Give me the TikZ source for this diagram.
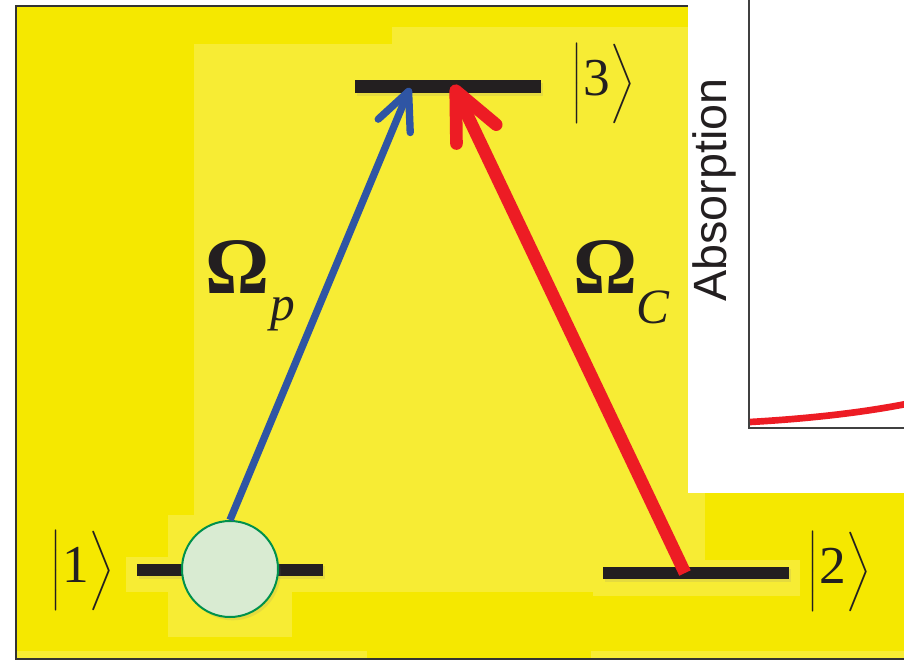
\documentclass[tikz,border=0pt]{standalone}
\usepackage{fix-cm}
\usepackage{amsmath}
\usepackage{fontspec}
\setmainfont{Liberation Serif}
\newfontfamily\plotfont{Liberation Sans}
\usetikzlibrary{arrows.meta,positioning,shadows}

\definecolor{bgyellow}{RGB}{245,232,0}
\definecolor{lightyellow}{RGB}{247,236,52}
\definecolor{barblack}{RGB}{35,31,32}
\definecolor{probeblue}{RGB}{47,85,164}
\definecolor{couplered}{RGB}{237,28,36}
\definecolor{atomgreen}{RGB}{0,145,76}
\definecolor{atomfill}{RGB}{217,235,210}

\newcommand{\stket}[1]{$\Bigl|$\kern1pt{\fontsize{40}{40}\selectfont #1}$\Bigr\rangle$}

\tikzset{
  level/.style={fill=barblack, inner sep=0, minimum width=139.5pt, minimum height=9.5pt,
    drop shadow={shadow xshift=1.5pt, shadow yshift=-2pt, opacity=0.15}},
  ketlabel/.style={anchor=base, inner sep=0, text=barblack, font=\fontsize{34}{40}\selectfont},
  rabi/.style={anchor=base west, inner sep=0, text=barblack, font=\fontsize{60}{62}\selectfont\bfseries},
  sublabel/.style={anchor=base west, inner sep=0, text=barblack, font=\fontsize{37}{40}\selectfont\itshape},
  probe/.style={draw=probeblue, line width=5.5pt, -{Straight Barb[round, length=28pt, width=26pt]}},
  coupling/.style={draw=couplered, line width=9.5pt, -{Straight Barb[round, length=36pt, width=33pt]}}
}

\begin{document}
\begin{tikzpicture}[x=0.75pt, y=-0.75pt]
  \clip (0,0) rectangle (904,661);

  % Background
  \fill[bgyellow] (16,6) rectangle (910,659);
  \fill[lightyellow] (194,44) rectangle (705,592);
  \fill[lightyellow] (392,27) rectangle (688,44);
  \fill[lightyellow] (168,515) rectangle (292,637);
  \fill[lightyellow] (126,557) rectangle (333,592);
  \fill[lightyellow] (593,560) rectangle (800,596);
  \fill[lightyellow] (16,651) rectangle (367,659);
  \fill[lightyellow] (591,651) rectangle (910,659);
  \draw[line width=1.5pt, black!80] (910,6) -- (16,6) -- (16,659) -- (910,659);

  % Inset plot
  \fill[white] (688,-2) rectangle (910,493);
  \draw[line width=1.2pt, black!75] (749,-2) -- (749,428) -- (910,428);
  \draw[line width=5pt, couplered] (750,422) .. controls (820,418) and (870,411) .. (906,404);
  \node (absorp) [rotate=90, inner sep=0, text=barblack, font=\plotfont\fontsize{35}{36}\selectfont] at (714,190) {Absorption};

  % Levels
  \node (lev1) [level] at (230,570) {};
  \node (lev2) [level] at (696,573) {};
  \node (lev3) [level] at (447.5,86.5) {};
  \node (atom) [circle, draw=atomgreen, fill=atomfill, line width=1.5pt, minimum size=72pt, inner sep=0,
    drop shadow={shadow xshift=2pt, shadow yshift=-2.5pt, opacity=0.15}] at (230,569) {};

  % Arrows
  \coordinate (tipP) at (410,88);
  \coordinate (tipC) at (453,85);
  \coordinate (startC) at (685,573);
  \draw[probe] (atom.north) -- (tipP);
  \draw[coupling] (startC) -- (tipC);

  % Labels
  \node (ket1) [ketlabel] at (82,582) {\stket{1}};
  \node (ket2) [ketlabel] at (839,583) {\stket{2}};
  \node (ket3) [ketlabel] at (603,95) {\stket{3}};
  \node (omp) [rabi] at (205,293) {Ω};
  \node (subp) [sublabel] at (270,320) {p};
  \node (omc) [rabi] at (573,293) {Ω};
  \node (subc) [sublabel] at (636,323) {C};
\end{tikzpicture}
\end{document}
